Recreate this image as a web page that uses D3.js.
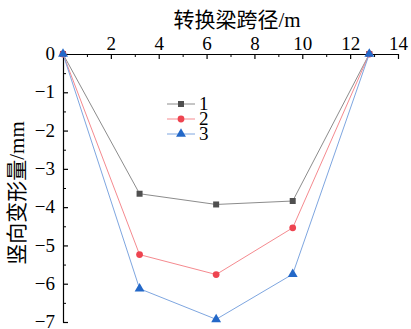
<!DOCTYPE html>
<html>
<head>
<meta charset="utf-8">
<style>
    body { margin: 0; background: #fff; }
    svg { display: block; }
    .tick text { font-family: 'Liberation Serif', 'Times New Roman', serif; font-size: 19px; fill: #000; }
    .axis-title { font-family: 'Liberation Serif', 'Noto Sans CJK SC', serif; font-size: 21px; fill: #000; }
    .legend text { font-family: 'Liberation Serif', serif; font-size: 19px; fill: #000; }
</style>
</head>
<body>
<svg width="411" height="329"></svg>
<script src="https://d3js.org/d3.v7.min.js"></script>
<script>
    // span positions (m)
    let span = [0, 3.2, 6.4, 9.6, 12.8]
    // vertical deformation (mm)
    let s1 = [0, -3.65, -3.93, -3.84, 0]
    let s2 = [0, -5.24, -5.76, -4.54, 0]
    let s3 = [0, -6.13, -6.93, -5.75, 0]
    let seriesNames = ["1", "2", "3"]
    let xTicks = [2, 4, 6, 8, 10, 12, 14]
    let yTicks = [0, -1, -2, -3, -4, -5, -6, -7]

    let svg = d3.select("svg")
    let margin = { top: 54, left: 63, right: 13, bottom: 7 }
    let width = 411, height = 329

    let x = d3.scaleLinear().domain([0, 14]).range([margin.left, width - margin.right])
    let y = d3.scaleLinear().domain([0, -7]).range([margin.top, height - margin.bottom])

    // minor ticks
    svg.append("g")
        .attr("transform", `translate(0,${margin.top})`)
        .call(d3.axisTop(x).tickValues(d3.range(1, 14, 2)).tickSize(-3).tickFormat(""))
        .call(g => g.select(".domain").remove())
        .selectAll("line").attr("stroke", "#000")
    svg.append("g")
        .attr("transform", `translate(${margin.left},0)`)
        .call(d3.axisLeft(y).tickValues(d3.range(-0.5, -7, -1)).tickSize(-3).tickFormat(""))
        .call(g => g.select(".domain").remove())
        .selectAll("line").attr("stroke", "#000")

    // major axes
    svg.append("g")
        .attr("class", "x axis")
        .attr("transform", `translate(0,${margin.top})`)
        .call(d3.axisTop(x).tickValues(xTicks).tickSize(-5).tickPadding(4).tickSizeOuter(0).tickFormat(d3.format("d")))
        .call(g => g.selectAll("path,line").attr("stroke", "#000").attr("stroke-width", 1.2))

    svg.append("g")
        .attr("class", "y axis")
        .attr("transform", `translate(${margin.left},0)`)
        .call(d3.axisLeft(y).tickValues(yTicks).tickSize(-5).tickPadding(8).tickSizeOuter(0)
            .tickFormat(d => d == 0 ? "0" : "\u2212" + Math.abs(d)))
        .call(g => g.selectAll("path,line").attr("stroke", "#000").attr("stroke-width", 1.2))
        .call(g => g.selectAll(".tick text").attr("dy", "0.3em"))

    // titles
    svg.append("text")
        .attr("class", "axis-title")
        .attr("x", 237)
        .attr("y", 27)
        .attr("text-anchor", "middle")
        .text("转换梁跨径/m")

    svg.append("text")
        .attr("class", "axis-title")
        .attr("transform", "translate(24,193) rotate(-90)")
        .attr("text-anchor", "middle")
        .text("竖向变形量/mm")

    let lineColors = ["#8c8c8c", "#f58a8f", "#7ea6e0"]
    let markColors = ["#4f4f4f", "#ee4450", "#2368c8"]
    let allSeries = [s1, s2, s3]

    let line = d3.line()
        .x((d, i) => x(span[i]))
        .y(d => y(d))

    let symbols = [d3.symbolSquare, d3.symbolCircle, d3.symbolTriangle]
    let symSizes = [36, 36, 42]

    allSeries.forEach((s, k) => {
        svg.append("path")
            .attr("d", line(s))
            .attr("fill", "none")
            .attr("stroke", lineColors[k])
            .attr("stroke-width", 1)
        svg.append("g")
            .selectAll("path")
            .data(s)
            .join("path")
            .attr("transform", (d, i) => `translate(${x(span[i])},${y(d)})`)
            .attr("d", d3.symbol().type(symbols[k]).size(symSizes[k]))
            .attr("fill", markColors[k])
    })

    // legend
    let legend = svg.append("g").attr("class", "legend")
    seriesNames.forEach((name, k) => {
        let ly = 104 + k * 15
        legend.append("line")
            .attr("x1", 167).attr("x2", 195)
            .attr("y1", ly).attr("y2", ly)
            .attr("stroke", lineColors[k])
        legend.append("path")
            .attr("transform", `translate(181,${ly})`)
            .attr("d", d3.symbol().type(symbols[k]).size(symSizes[k]))
            .attr("fill", markColors[k])
        legend.append("text")
            .attr("x", 199)
            .attr("y", ly + 6)
            .text(name)
    })
</script>
</body>
</html>
